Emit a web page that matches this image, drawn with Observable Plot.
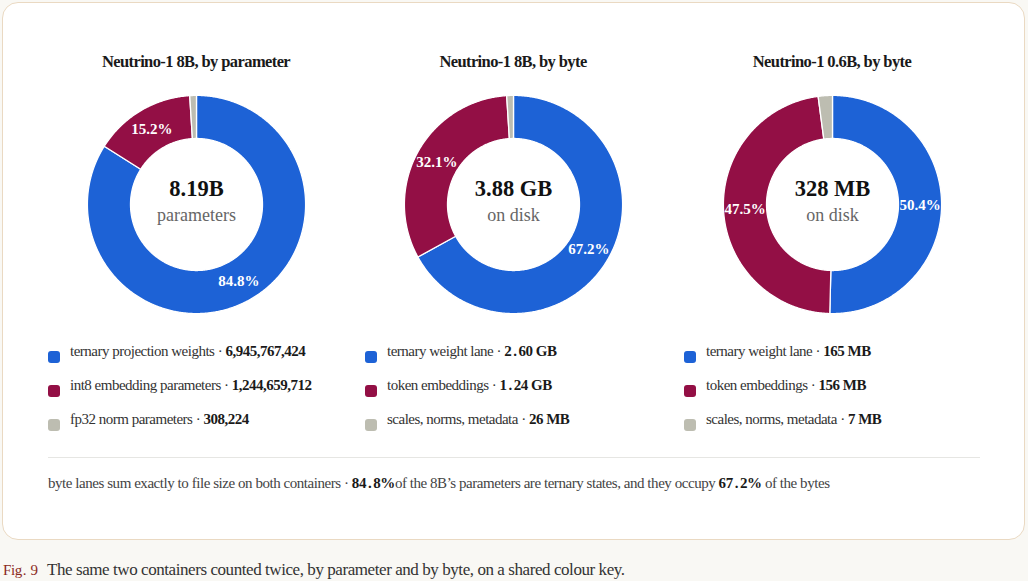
<!DOCTYPE html>
<html>
<head>
<meta charset="utf-8">
<script src="https://cdn.jsdelivr.net/npm/d3@7"></script>
<script src="https://cdn.jsdelivr.net/npm/@observablehq/plot@0.6"></script>
<style>
  html, body { margin: 0; padding: 0; }
  body { width: 1028px; height: 581px; background: #f9f8f4; position: relative; overflow: hidden;
         font-family: "Liberation Serif", "DejaVu Serif", serif; color: #333; }
  .card { position: absolute; left: 2px; top: 2px; width: 1021px; height: 536px; background: #fff;
          border: 1px solid #ead9c2; border-radius: 16px; }
  .col { position: absolute; top: 0; width: 318px; height: 450px; }
  .title { position: absolute; top: 50px; left: 0; width: 318px; text-align: center; font-weight: bold;
           font-size: 16.5px; color: #1a1a1a; letter-spacing: -0.6px; line-height: 24px; }
  .donut { position: absolute; top: 84px; left: 39px; width: 240px; height: 240px; }
  .row { position: absolute; left: 0; height: 22px; line-height: 22px; font-size: 15px; white-space: nowrap;
         letter-spacing: -0.5px; color: #333; }
  .sw { position: absolute; left: 11px; top: 11px; width: 12px; height: 12px; border-radius: 3px; }
  .lt { position: absolute; left: 33px; top: 0; }
  .v { font-weight: bold; color: #1a1a1a; }
  .dot { margin: 0 2px; }
  .rule { position: absolute; left: 48px; top: 457px; width: 932px; height: 1px; background: #e6e6e3; }
  .foot { position: absolute; left: 48px; top: 472px; font-size: 15px; line-height: 22px; letter-spacing: -0.45px;
          color: #444; white-space: nowrap; }
  .cap { position: absolute; top: 558px; left: 3px; font-size: 17px; line-height: 24px; white-space: nowrap;
         color: #333; letter-spacing: -0.43px; }
  .fig { color: #8b2a1c; font-size: 15px; display: inline-block; width: 44px; }
  .fig .dot { margin: 0 1px; }
</style>
</head>
<body>
<div class="card"></div>
<div id="cols"></div>
<div class="rule"></div>
<div class="foot" id="foot"></div>
<div class="cap" id="cap"></div>
<script>
// ---- data ----
const keys = ["ternary", "embed", "meta"];
const colors = ["#1d62d6", "#930f45", "#bdbdb1"];
const titles = ["Neutrino-1 8B, by parameter", "Neutrino-1 8B, by byte", "Neutrino-1 0.6B, by byte"];
const centerValues = ["8.19B", "3.88 GB", "328 MB"];
const centerUnits = ["parameters", "on disk", "on disk"];
const paramCounts8B = [6945767424, 1244659712, 308224];   // parameters
const bytes8B = [2.607, 1.245, 0.026];                     // GB
const bytes06B = [165.4, 155.9, 6.9];                      // MB
const legendLabels = [
  ["ternary projection weights", "int8 embedding parameters", "fp32 norm parameters"],
  ["ternary weight lane", "token embeddings", "scales, norms, metadata"],
  ["ternary weight lane", "token embeddings", "scales, norms, metadata"]
];
const legendValues = [
  ["6,945,767,424", "1,244,659,712", "308,224"],
  ["2.60 GB", "1.24 GB", "26 MB"],
  ["165 MB", "156 MB", "7 MB"]
];
const footParts = ["byte lanes sum exactly to file size on both containers · ", "84.8%",
  "of the 8B’s parameters are ternary states, and they occupy ", "67.2%", " of the bytes"];
const figLabel = "Fig. 9";
const captionText = "The same two containers counted twice, by parameter and by byte, on a shared colour key.";

const series = [paramCounts8B, bytes8B, bytes06B];
const colLefts = [37, 354, 673];

// ---- helpers ----
const innerR = 0.605, outerR = 1;
const minShare = 0.01; // visibility floor for tiny slices
const fmtPct = d3.format(".1%");
const valueHTML = s => s.replace(/\./g, '<span class="dot">.</span>');

function donut(values, ci) {
  const total = d3.sum(values);
  const rows = values.map((v, i) => ({key: keys[i], value: v, share: v / total}));
  const arcs = d3.pie().sort(null).value(d => Math.max(d.share, minShare))(rows);
  const pts = [];
  const labels = [];
  for (const a of arcs) {
    const steps = Math.max(2, Math.ceil((a.endAngle - a.startAngle) / (Math.PI / 360)));
    for (let s = 0; s <= steps; s++) {
      const t = a.startAngle + (a.endAngle - a.startAngle) * s / steps;
      pts.push({key: a.data.key, x: outerR * Math.sin(t), y: -outerR * Math.cos(t)});
    }
    for (let s = steps; s >= 0; s--) {
      const t = a.startAngle + (a.endAngle - a.startAngle) * s / steps;
      pts.push({key: a.data.key, x: innerR * Math.sin(t), y: -innerR * Math.cos(t)});
    }
    if (a.data.share > 0.05) {
      const m = (a.startAngle + a.endAngle) / 2, r = (innerR + outerR) / 2;
      labels.push({x: r * Math.sin(m), y: -r * Math.cos(m), text: fmtPct(a.data.share)});
    }
  }
  return Plot.plot({
    width: 240, height: 240, margin: 0,
    style: {fontFamily: "Liberation Serif, DejaVu Serif, serif", background: "transparent"},
    x: {domain: [-1.1, 1.1], axis: null},
    y: {domain: [-1.1, 1.1], range: [0, 240], axis: null},
    color: {domain: keys, range: colors},
    marks: [
      Plot.line(pts, {x: "x", y: "y", z: "key", fill: "key", stroke: "white", strokeWidth: 1.3, curve: "linear-closed"}),
      Plot.text(labels, {x: "x", y: "y", text: "text", fill: "white", fontSize: 15, fontWeight: "bold", letterSpacing: -0.5}),
      Plot.text([centerValues[ci]], {frameAnchor: "middle", text: d => d, dy: -16, fontSize: 22.5, fontWeight: "bold", fill: "#111", letterSpacing: -1.1}),
      Plot.text([centerUnits[ci]], {frameAnchor: "middle", text: d => d, dy: 11, fontSize: 18, fill: "#666", letterSpacing: -0.3})
    ]
  });
}

const colsEl = document.getElementById("cols");
series.forEach((vals, ci) => {
  const col = document.createElement("div");
  col.className = "col";
  col.style.left = colLefts[ci] + "px";
  const t = document.createElement("div");
  t.className = "title"; t.textContent = titles[ci];
  col.appendChild(t);
  const d = document.createElement("div");
  d.className = "donut";
  d.appendChild(donut(vals, ci));
  col.appendChild(d);
  legendLabels[ci].forEach((lab, i) => {
    const r = document.createElement("div");
    r.className = "row";
    r.style.top = (340 + 34 * i) + "px";
    r.innerHTML = `<span class="sw" style="background:${colors[i]}"></span><span class="lt">${lab} · <span class="v">${valueHTML(legendValues[ci][i])}</span></span>`;
    col.appendChild(r);
  });
  colsEl.appendChild(col);
});

document.getElementById("foot").innerHTML =
  footParts[0] + `<span class="v">${valueHTML(footParts[1])}</span>` + footParts[2] +
  `<span class="v">${valueHTML(footParts[3])}</span>` + footParts[4];
document.getElementById("cap").innerHTML = `<span class="fig">${valueHTML(figLabel)}</span>${captionText}`;
</script>
</body>
</html>
